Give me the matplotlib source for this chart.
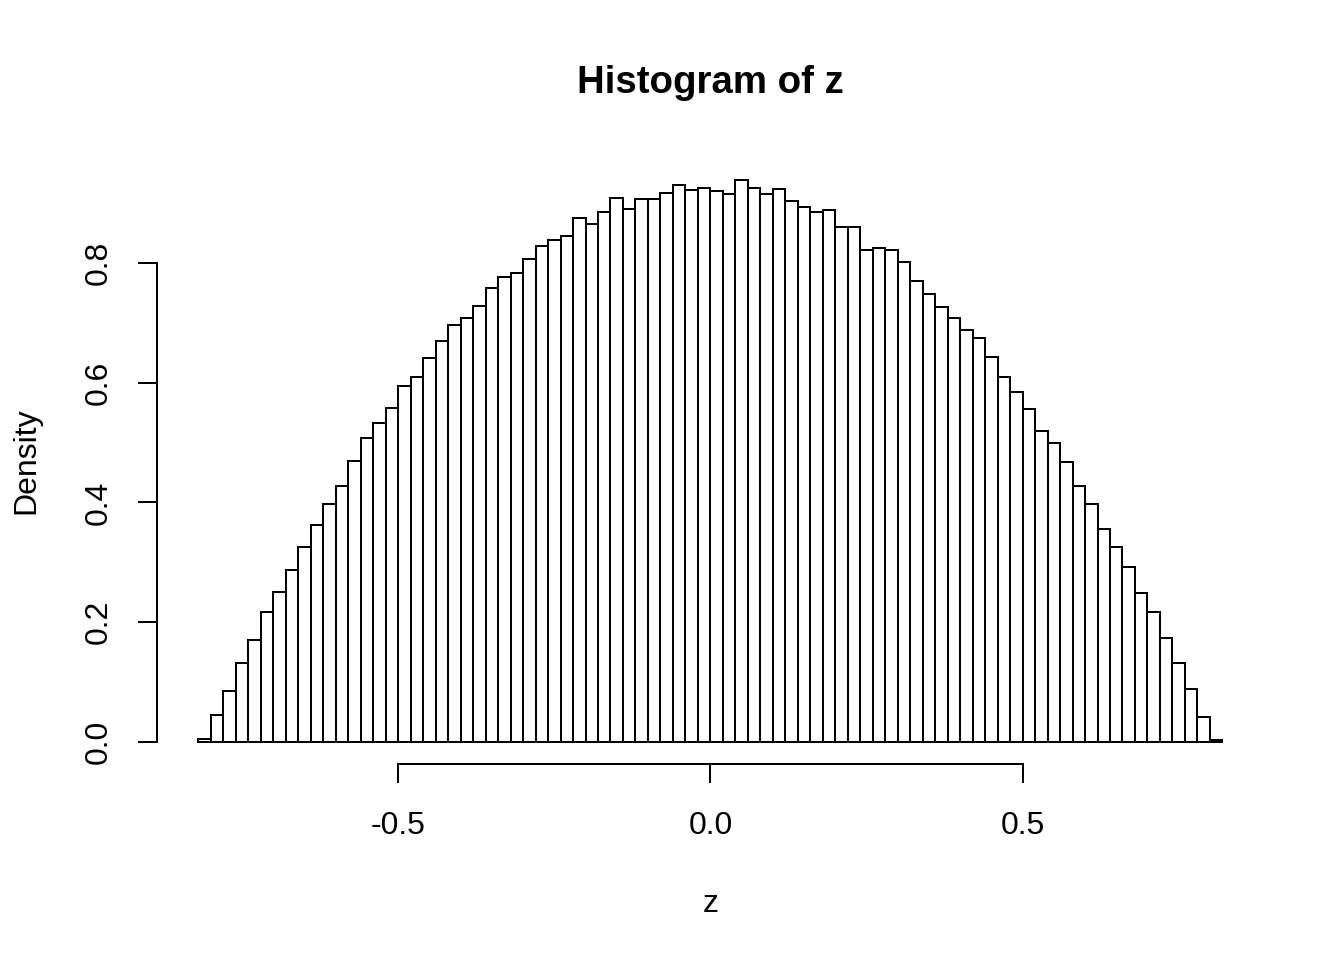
import matplotlib
matplotlib.use('Agg')
import matplotlib.pyplot as plt
import numpy as np

# histogram of z: bin edges and density per bin
bin_start = -0.82
bin_width = 0.02
density = [
    0.005, 0.044, 0.084, 0.132, 0.170, 0.216, 0.250, 0.287, 0.326, 0.363,
    0.398, 0.428, 0.469, 0.507, 0.532, 0.557, 0.594, 0.610, 0.641, 0.669,
    0.696, 0.708, 0.728, 0.758, 0.777, 0.784, 0.806, 0.828, 0.838, 0.845,
    0.876, 0.865, 0.885, 0.908, 0.891, 0.907, 0.907, 0.917, 0.930, 0.922,
    0.926, 0.920, 0.915, 0.939, 0.926, 0.916, 0.924, 0.903, 0.893, 0.885,
    0.889, 0.861, 0.860, 0.822, 0.826, 0.822, 0.801, 0.770, 0.749, 0.727,
    0.708, 0.688, 0.674, 0.643, 0.609, 0.584, 0.556, 0.519, 0.500, 0.467,
    0.428, 0.398, 0.355, 0.326, 0.292, 0.249, 0.216, 0.174, 0.132, 0.088,
    0.041, 0.003,
]
x_ticks = [-0.5, 0.0, 0.5]
y_ticks = [0.0, 0.2, 0.4, 0.6, 0.8]

title = 'Histogram of z'
x_label = 'z'
y_label = 'Density'


def main():
    plt.rcParams['font.family'] = ['Liberation Sans', 'DejaVu Sans']
    plt.rcParams['font.size'] = 12

    breaks = bin_start + bin_width * np.arange(len(density) + 1)
    heights = np.array(density)

    fig = plt.figure(figsize=(7, 5), dpi=192)
    ax = fig.add_axes([0.82 / 7, 1.02 / 5, 1 - (0.82 + 0.42) / 7, 1 - (1.02 + 0.82) / 5])

    ax.bar(breaks[:-1], heights, width=np.diff(breaks), align='edge',
           facecolor='white', edgecolor='black', linewidth=0.75)

    # R style 4% padding at each end
    xr = breaks[-1] - breaks[0]
    ax.set_xlim(breaks[0] - 0.04 * xr, breaks[-1] + 0.04 * xr)
    ymax = heights.max()
    ax.set_ylim(-0.04 * ymax, ymax * 1.04)

    for s in ['top', 'right']:
        ax.spines[s].set_visible(False)
    ax.spines['left'].set_bounds(y_ticks[0], y_ticks[-1])
    ax.spines['bottom'].set_bounds(x_ticks[0], x_ticks[-1])
    ax.spines['left'].set_linewidth(0.75)
    ax.spines['bottom'].set_linewidth(0.75)

    ax.set_xticks(x_ticks)
    ax.set_xticklabels(['%.1f' % v for v in x_ticks])
    ax.set_yticks(y_ticks)
    ax.set_yticklabels(['%.1f' % v for v in y_ticks], rotation=90, va='center')
    ax.tick_params(axis='x', length=7.2, width=0.75, pad=10.5, labelsize=12)
    ax.tick_params(axis='y', length=7.2, width=0.75, pad=9, labelsize=12)

    ax.set_xlabel(x_label, fontsize=12, va='baseline')
    ax.xaxis.set_label_coords(0.5, -0.2434)
    ax.set_ylabel(y_label, fontsize=12, va='center', ha='center')
    ax.yaxis.set_label_coords(-0.1188, 0.5)

    ax.text(0.5, 1.1064, title, transform=ax.transAxes, ha='center',
            va='baseline', fontsize=14.4, fontweight='bold')

    fig.savefig('out.png', dpi=192, facecolor='white')


if __name__ == '__main__':
    main()
